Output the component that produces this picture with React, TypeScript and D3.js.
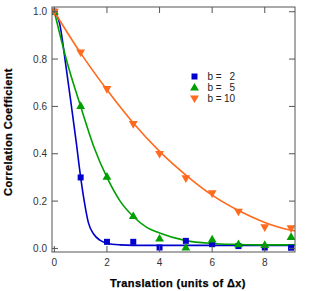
import React from 'react';
import * as d3 from 'd3';

// measured points
const shifts = [0, 1, 2, 3, 4, 5, 6, 7, 8, 9];
const b2 = [1.0, 0.3, 0.028, 0.028, 0.004, 0.032, 0.018, 0.01, 0.004, 0.003];
const b5 = [1.0, 0.602, 0.303, 0.137, 0.042, 0.004, 0.038, 0.018, 0.015, 0.049];
const b10 = [1.0, 0.828, 0.673, 0.525, 0.399, 0.296, 0.233, 0.155, 0.089, 0.085];

// fitted curves
const fitB2: [number, number][] = [
  [0, 1], [0.2, 0.95], [0.44, 0.77], [0.65, 0.6], [0.83, 0.45], [1, 0.3],
  [1.15, 0.19], [1.29, 0.11], [1.5, 0.06], [1.73, 0.035], [2, 0.022],
  [2.5, 0.015], [3, 0.013], [9.15, 0.013],
];
const fitB5: [number, number][] = [
  [0, 1], [0.5, 0.78], [1, 0.6], [1.5, 0.43], [2, 0.3], [2.5, 0.2],
  [3, 0.135], [3.5, 0.09], [4, 0.065], [5, 0.033], [6, 0.021], [7, 0.017],
  [8, 0.015], [9.15, 0.015],
];
const fitB10: [number, number][] = [
  [0, 1], [1, 0.825], [2, 0.67], [3, 0.53], [4, 0.41], [5, 0.31], [6, 0.225],
  [7, 0.16], [8, 0.11], [9, 0.077], [9.15, 0.074],
];

const xTicks = [0, 2, 4, 6, 8];
const yTicks = [0, 0.2, 0.4, 0.6, 0.8, 1.0];
const legendLabels = ['2', '5', '10'];

const BLUE = '#0000cc';
const GREEN = '#00a000';
const ORANGE = '#ff6a1e';

const W = 317;
const H = 291;
const left = 52, right = 295, top = 7, bottom = 252;

const App: React.FC = () => {
  const x = d3.scaleLinear().domain([-0.09, 9.15]).range([left, right]);
  const y = d3.scaleLinear().domain([-0.015, 1.02]).range([bottom, top]);

  const line = d3
    .line<[number, number]>()
    .x((d) => x(d[0]))
    .y((d) => y(d[1]))
    .curve(d3.curveMonotoneX);

  const sq = d3.symbol().type(d3.symbolSquare).size(36)()!;
  const tri = d3.symbol().type(d3.symbolTriangle).size(34)()!;

  const font = '"Liberation Sans", Arial, sans-serif';
  const axisColor = '#555';

  const marker = (kind: number, cx: number, cy: number, key: string) => {
    if (kind === 0)
      return <path key={key} d={sq} fill={BLUE} transform={`translate(${cx},${cy})`} />;
    if (kind === 1)
      return <path key={key} d={tri} fill={GREEN} transform={`translate(${cx},${cy + 0.5})`} />;
    return <path key={key} d={tri} fill={ORANGE} transform={`translate(${cx},${cy - 0.5}) rotate(180)`} />;
  };

  const series = [
    { vals: b2, fit: fitB2, color: BLUE },
    { vals: b5, fit: fitB5, color: GREEN },
    { vals: b10, fit: fitB10, color: ORANGE },
  ];

  return (
    <svg
      width={W}
      height={H}
      style={{ position: 'absolute', left: 0, top: 0, background: '#fff' }}
      fontFamily={font}
    >
      <defs>
        <clipPath id="plot">
          <rect x={left} y={top} width={right - left} height={bottom - top} />
        </clipPath>
      </defs>

      <g clipPath="url(#plot)">
        {series.map((s, i) => (
          <path key={'fit' + i} d={line(s.fit)!} fill="none" stroke={s.color} strokeWidth={1.6} />
        ))}
        {series.map((s, i) =>
          s.vals.map((v, j) => marker(i, x(shifts[j]), y(v), `m${i}-${j}`))
        )}
      </g>

      {/* frame */}
      <rect x={left} y={top} width={right - left} height={bottom - top} fill="none" stroke={axisColor} strokeWidth={1} />

      {/* x ticks, inward top and bottom */}
      {xTicks.map((t) => (
        <g key={'xt' + t}>
          <line x1={x(t)} x2={x(t)} y1={bottom} y2={bottom - 6} stroke={axisColor} />
          <line x1={x(t)} x2={x(t)} y1={top} y2={top + 6} stroke={axisColor} />
          <text x={x(t)} y={bottom + 14} textAnchor="middle" fontSize={10} fill="#333">
            {t}
          </text>
        </g>
      ))}

      {/* y ticks, inward left and right */}
      {yTicks.map((t) => (
        <g key={'yt' + t}>
          <line x1={left} x2={left + 6} y1={y(t)} y2={y(t)} stroke={axisColor} />
          <line x1={right} x2={right - 6} y1={y(t)} y2={y(t)} stroke={axisColor} />
          <text x={left - 5} y={y(t) + 3.5} textAnchor="end" fontSize={10} fill="#333">
            {t.toFixed(1)}
          </text>
        </g>
      ))}

      {/* legend */}
      {legendLabels.map((lab, i) => (
        <g key={'lg' + i}>
          {marker(i, 194.5, 76.5 + i * 11, 'lgm' + i)}
          <text x={207.5} y={80 + i * 11} fontSize={10} fill="#222">
            b =
          </text>
          <text x={235} y={80 + i * 11} fontSize={10} fill="#222" textAnchor="end">
            {lab}
          </text>
        </g>
      ))}

      {/* axis titles */}
      <text
        x={178}
        y={287}
        textAnchor="middle"
        fontSize={11}
        fontWeight="bold"
        letterSpacing={0.4}
        stroke="#000"
        strokeWidth={0.25}
        fill="#000"
      >
        Translation (units of Δx)
      </text>
      <text
        transform={`translate(11.5,132) rotate(-90)`}
        textAnchor="middle"
        fontSize={11}
        fontWeight="bold"
        letterSpacing={0.4}
        stroke="#000"
        strokeWidth={0.25}
        fill="#000"
      >
        Correlation Coefficient
      </text>
    </svg>
  );
};

export default App;
